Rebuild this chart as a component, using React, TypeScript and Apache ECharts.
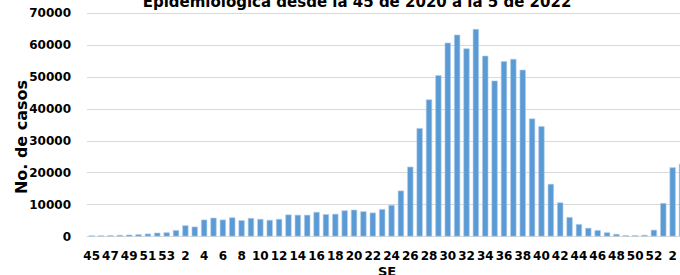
import React, { useEffect, useRef } from "react";
import * as echarts from "echarts";

const weeks2020 = ["45", "46", "47", "48", "49", "50", "51", "52", "53"];
const weeks2021 = Array.from({ length: 52 }, (_, i) => String(i + 1));
const weeks2022 = ["1", "2", "3"];
const categories = [...weeks2020, ...weeks2021, ...weeks2022];

const cases2020 = [300, 300, 400, 500, 600, 700, 900, 1200, 1300];
const cases2021 = [
  2000, 3500, 3100, 5300, 5900, 5300, 6000, 5100, 5800, 5500,
  5200, 5500, 6900, 6800, 6800, 7700, 7000, 7100, 8200, 8400,
  7900, 7500, 8600, 9900, 14400, 21900, 34000, 43000, 50600, 60800,
  63300, 59000, 65100, 56700, 48900, 55000, 55700, 52300, 37000, 34600,
  16500, 10700, 6100, 3900, 2700, 2000, 1300, 800, 400, 400,
  500, 2100,
];
const cases2022 = [10500, 21700, 22800];
const cases = [...cases2020, ...cases2021, ...cases2022];

const titleText = "Epidemiológica desde la 45 de 2020 a la 5 de 2022";
const yName = "No. de casos";
const xName = "SE";

const FONT = "'DejaVu Sans', sans-serif";

export default function App() {
  const ref = useRef<HTMLDivElement>(null);
  useEffect(() => {
    if (!ref.current) return;
    const chart = echarts.init(ref.current, undefined, { renderer: "svg" });
    chart.setOption({
      animation: false,
      backgroundColor: "#ffffff",
      grid: {
        left: 87,
        width: 599.7,
        top: 13.3,
        height: 223.2,
        containLabel: false,
        outerBoundsMode: "none",
      },
      xAxis: {
        type: "category",
        data: categories,
        axisLine: { lineStyle: { color: "#d9d9d9", width: 1 } },
        axisTick: { show: false },
        axisLabel: {
          interval: 1,
          margin: 13,
          color: "#000",
          fontFamily: FONT,
          fontWeight: "bold",
          fontSize: 12,
        },
      },
      yAxis: {
        type: "value",
        min: 0,
        max: 70000,
        interval: 10000,
        axisLine: { show: false },
        axisTick: { show: false },
        splitLine: { lineStyle: { color: "#d9d9d9", width: 1 } },
        axisLabel: {
          margin: 16,
          color: "#000",
          fontFamily: FONT,
          fontWeight: "bold",
          fontSize: 12,
          formatter: (v: number) => String(v),
        },
      },
      series: [
        {
          type: "bar",
          data: cases,
          barCategoryGap: "34%",
          itemStyle: {
            color: "#5b9bd5",
            borderColor: "#b4cfe9",
            borderWidth: 0.6,
          },
        },
      ],
      graphic: [
        {
          type: "text",
          x: 357,
          y: 9,
          style: {
            text: titleText,
            align: "center",
            verticalAlign: "bottom",
            font: `bold 15px ${FONT}`,
            fill: "#000",
          },
        },
        {
          type: "text",
          x: 21,
          y: 137,
          rotation: Math.PI / 2,
          style: {
            text: yName,
            align: "center",
            verticalAlign: "middle",
            font: `bold 16px ${FONT}`,
            fill: "#000",
          },
        },
        {
          type: "text",
          x: 387,
          y: 265,
          style: {
            text: xName,
            align: "center",
            verticalAlign: "top",
            font: `bold 13px ${FONT}`,
            fill: "#000",
          },
        },
      ],
    });
    return () => chart.dispose();
  }, []);
  return (
    <div
      ref={ref}
      style={{ position: "absolute", left: 0, top: 0, width: 680, height: 275 }}
    />
  );
}
